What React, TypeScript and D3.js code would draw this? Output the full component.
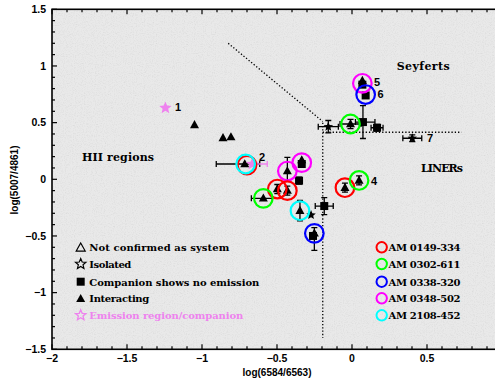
import React from "react";
import * as d3 from "d3";

type P = { x: number; y: number; xlo?: number; xhi?: number; ylo?: number; yhi?: number };

const xTicks = [-2, -1.5, -1, -0.5, 0, 0.5];
const yTicks = [-1.5, -1, -0.5, 0, 0.5, 1, 1.5];

const systemNames = ["AM 0149-334", "AM 0302-611", "AM 0338-320", "AM 0348-502", "AM 2108-452"];
const systemColors = ["#ff0000", "#00ff00", "#0000ff", "#ff00ff", "#00ffff"];

const legendTypes = ["Not confirmed as system", "Isolated", "Companion shows no emission", "Interacting", "Emission region/companion"];

// rings: galaxy system membership
const rings: { x: number; y: number; s: number }[] = [
  { x: -0.70, y: 0.125, s: 0 },
  { x: -0.709, y: 0.135, s: 4 },
  { x: -0.431, y: 0.073, s: 3 },
  { x: -0.335, y: 0.147, s: 3 },
  { x: -0.498, y: -0.086, s: 0 },
  { x: -0.431, y: -0.10, s: 0 },
  { x: -0.591, y: -0.168, s: 1 },
  { x: -0.347, y: -0.277, s: 4 },
  { x: -0.251, y: -0.477, s: 2 },
  { x: -0.047, y: -0.074, s: 0 },
  { x: 0.047, y: -0.01, s: 1 },
  { x: -0.01, y: 0.488, s: 1 },
  { x: 0.069, y: 0.847, s: 3 },
  { x: 0.091, y: 0.748, s: 2 },
];

const interacting: P[] = [
  { x: -1.05, y: 0.48 },
  { x: -0.86, y: 0.365 },
  { x: -0.807, y: 0.373 },
  { x: -0.715, y: 0.135, xlo: 0.19, xhi: 0.1 },
  { x: -0.431, y: 0.073, ylo: 0.09, yhi: 0.12 },
  { x: -0.498, y: -0.086, ylo: 0.04, yhi: 0.04 },
  { x: -0.431, y: -0.10, ylo: 0.04, yhi: 0.04 },
  { x: -0.591, y: -0.168, xlo: 0.08, xhi: 0.06 },
  { x: -0.347, y: -0.277, ylo: 0.09, yhi: 0.09 },
  { x: -0.251, y: -0.477, ylo: 0.15, yhi: 0.05 },
  { x: -0.047, y: -0.074, ylo: 0.04, yhi: 0.04 },
  { x: 0.047, y: -0.01, ylo: 0.04, yhi: 0.04 },
  { x: -0.01, y: 0.488, xlo: 0.07, xhi: 0.07, ylo: 0.04, yhi: 0.04 },
  { x: 0.069, y: 0.87 },
  { x: -0.335, y: 0.17 },
];

const noEmission: P[] = [
  { x: -0.335, y: 0.135 },
  { x: -0.353, y: -0.012, ylo: 0.03, yhi: 0.03 },
  { x: -0.185, y: -0.236, xlo: 0.06, xhi: 0.06, ylo: 0.075, yhi: 0.075 },
  { x: 0.091, y: 0.74 },
  { x: 0.069, y: 0.835 },
  { x: 0.167, y: 0.455, xlo: 0.04, xhi: 0.04, ylo: 0.03, yhi: 0.03 },
  { x: -0.26, y: -0.50 },
  { x: 0.073, y: 0.505, xlo: 0.05, xhi: 0.08, ylo: 0.145, yhi: 0.145 },
];

const isolated: P[] = [
  { x: -0.158, y: 0.464, xlo: 0.067, xhi: 0.067, ylo: 0.055, yhi: 0.055 },
  { x: 0.402, y: 0.362, xlo: 0.063, xhi: 0.063, ylo: 0.03, yhi: 0.03 },
  { x: -0.273, y: -0.315 },
];

const emission: P[] = [
  { x: -1.244, y: 0.63 },
  { x: -0.665, y: 0.135, xhi: 0.1, xlo: 0.0 },
];

const pointLabels = [
  { t: "1", x: -1.16, y: 0.638 },
  { t: "2", x: -0.6, y: 0.196 },
  { t: "4", x: 0.147, y: -0.015 },
  { t: "5", x: 0.167, y: 0.855 },
  { t: "6", x: 0.19, y: 0.755 },
  { t: "7", x: 0.52, y: 0.365 },
];

const diagLine = [[-0.825, 1.2], [-0.195, 0.51]];
const horizLine = [[-0.195, 0.415], [0.73, 0.415]];
const vertLine = [[-0.195, 0.5], [-0.195, -1.4]];

const regionLabels = [
  { t: "Seyferts", x: 0.298, y: 0.965, w: 53 },
  { t: "LINERs", x: 0.46, y: 0.064, w: 42 },
  { t: "HII regions", x: -1.80, y: 0.16, w: 72 },
];

const legendWidths = [140, 42, 170, 60, 154];

const W = 495, H = 383;
const x = d3.scaleLinear().domain([-2, 0.96]).range([52, 496]);
const y = d3.scaleLinear().domain([-1.5, 1.5]).range([349.3, 9.3]);

const fmt = (v: number) => (v < 0 ? "\u2212" + String(-v) : String(v));

function triPath(cx: number, cy: number, s: number) {
  const h = s * 0.9;
  return `M${cx},${cy - h * 0.6}L${cx + s / 2},${cy + h * 0.4}L${cx - s / 2},${cy + h * 0.4}Z`;
}
function starPath(cx: number, cy: number, r: number) {
  const pts: string[] = [];
  for (let i = 0; i < 10; i++) {
    const a = -Math.PI / 2 + (i * Math.PI) / 5;
    const rr = i % 2 === 0 ? r : r * 0.45;
    pts.push(`${cx + rr * Math.cos(a)},${cy + rr * Math.sin(a)}`);
  }
  return "M" + pts.join("L") + "Z";
}

function ErrBars({ p, color }: { p: P; color: string }) {
  const cx = x(p.x), cy = y(p.y);
  const els: React.ReactNode[] = [];
  const cap = 3;
  if (p.xlo !== undefined || p.xhi !== undefined) {
    const x0 = x(p.x - (p.xlo ?? 0)), x1 = x(p.x + (p.xhi ?? 0));
    els.push(<line key="h" x1={x0} x2={x1} y1={cy} y2={cy} stroke={color} strokeWidth={1.3} />);
    if (p.xlo) els.push(<line key="hc0" x1={x0} x2={x0} y1={cy - cap} y2={cy + cap} stroke={color} strokeWidth={1.3} />);
    if (p.xhi) els.push(<line key="hc1" x1={x1} x2={x1} y1={cy - cap} y2={cy + cap} stroke={color} strokeWidth={1.3} />);
  }
  if (p.ylo !== undefined || p.yhi !== undefined) {
    const y0 = y(p.y - (p.ylo ?? 0)), y1 = y(p.y + (p.yhi ?? 0));
    els.push(<line key="v" x1={cx} x2={cx} y1={y0} y2={y1} stroke={color} strokeWidth={1.3} />);
    if (p.ylo) els.push(<line key="vc0" x1={cx - cap} x2={cx + cap} y1={y0} y2={y0} stroke={color} strokeWidth={1.3} />);
    if (p.yhi) els.push(<line key="vc1" x1={cx - cap} x2={cx + cap} y1={y1} y2={y1} stroke={color} strokeWidth={1.3} />);
  }
  return <g>{els}</g>;
}

export default function App() {
  const line = d3.line<number[]>().x((d) => x(d[0])).y((d) => y(d[1]));
  const x0 = x(-2), x1 = x(0.96), yT = y(1.5), yB = y(-1.5);
  const minorX = d3.range(-2, 0.96, 0.1).map((v) => +v.toFixed(2));
  const minorY = d3.range(-1.5, 1.5001, 0.1).map((v) => +v.toFixed(2));
  const tickFont = { fontFamily: "'Liberation Sans', Arial, sans-serif", fontWeight: 700, fontSize: 10.5 } as const;
  const serif = { fontFamily: "'DejaVu Serif', serif", fontWeight: 700, fontSize: 10 } as const;
  const legRowY = [247.3, 264, 281.7, 298.3, 315.3];

  return (
    <svg width={W} height={H} style={{ position: "absolute", left: 0, top: 0, background: "#fff" }}>
      <defs>
        <filter id="noise" x="0" y="0" width="100%" height="100%">
          <feTurbulence type="fractalNoise" baseFrequency="0.9" numOctaves="2" seed="3" result="t" />
          <feColorMatrix type="matrix" values="0 0 0 0 0.55  0 0 0 0 0.55  0 0 0 0 0.55  0.9 0.9 0.9 0 -1.25" />
        </filter>
        <clipPath id="plotclip"><rect x={x0} y={yT} width={x1 - x0} height={yB - yT} /></clipPath>
      </defs>
      <rect x={x0} y={yT} width={x1 - x0} height={yB - yT} fill="#e9e9e9" />
      <rect x={x0} y={yT} width={x1 - x0} height={yB - yT} filter="url(#noise)" opacity={0.45} />

      {/* ticks */}
      <g stroke="#000" strokeWidth={1.2}>
        {minorX.map((v) => {
          const major = xTicks.some((t) => Math.abs(t - v) < 1e-6);
          const L = major ? 5 : 3;
          return (
            <g key={"mx" + v}>
              <line x1={x(v)} x2={x(v)} y1={yB} y2={yB - L} />
              <line x1={x(v)} x2={x(v)} y1={yT} y2={yT + L} />
            </g>
          );
        })}
        {minorY.map((v) => {
          const major = yTicks.some((t) => Math.abs(t - v) < 1e-6);
          const L = major ? 5 : 3;
          return <line key={"my" + v} x1={x0} x2={x0 + L} y1={y(v)} y2={y(v)} />;
        })}
      </g>
      <rect x={x0} y={yT} width={x1 - x0} height={yB - yT} fill="none" stroke="#000" strokeWidth={1.6} />

      {xTicks.map((v) => (
        <text key={"xt" + v} x={x(v)} y={362} textAnchor="middle" {...tickFont}>{fmt(v)}</text>
      ))}
      {yTicks.map((v) => (
        <text key={"yt" + v} x={46} y={y(v) + 3.8} textAnchor="end" {...tickFont}>{fmt(v)}</text>
      ))}
      <text x={277} y={376} textAnchor="middle" {...tickFont} fontSize={10}>log(6584/6563)</text>
      <text transform={`translate(18,180) rotate(-90)`} textAnchor="middle" {...tickFont} fontSize={10}>log(5007/4861)</text>

      <g clipPath="url(#plotclip)">
        {/* dotted dividing lines */}
        {[diagLine, horizLine, vertLine].map((l, i) => (
          <path key={"dl" + i} d={line(l) || ""} fill="none" stroke="#000" strokeWidth={1.3} strokeDasharray="1.3,2" />
        ))}

        {regionLabels.map((r) => (
          <text key={r.t} x={x(r.x)} y={y(r.y)} {...serif} fontSize={11} textLength={r.w} lengthAdjust="spacing">{r.t}</text>
        ))}

        {/* error bars */}
        {[...interacting, ...noEmission, ...isolated].map((p, i) => <ErrBars key={"e" + i} p={p} color="#000" />)}

        {/* markers */}
        {noEmission.map((p, i) => (
          <rect key={"s" + i} x={x(p.x) - 4} y={y(p.y) - 4} width={8} height={8} fill="#000" />
        ))}
        {interacting.map((p, i) => (
          <path key={"t" + i} d={triPath(x(p.x), y(p.y), 9)} fill="#000" />
        ))}
        {isolated.map((p, i) => (
          <path key={"st" + i} d={starPath(x(p.x), y(p.y), 5)} fill="#000" />
        ))}
        {emission.map((p, i) => (
          <g key={"em" + i}>
            <ErrBars p={p} color="#ee82ee" />
            <path d={starPath(x(p.x), y(p.y), 6.5)} fill="#ee82ee" />
          </g>
        ))}

        {rings.map((r, i) => (
          <circle key={"r" + i} cx={x(r.x)} cy={y(r.y)} r={9.3} fill="none" stroke={systemColors[r.s]} strokeWidth={2.2} />
        ))}

        {pointLabels.map((l) => (
          <text key={"pl" + l.t} x={x(l.x)} y={y(l.y) + 4} textAnchor="middle" {...tickFont} fontSize={11}>{l.t}</text>
        ))}

        {/* left legend */}
        {legendTypes.map((t, i) => {
          const cy = legRowY[i];
          const cx = 80.7;
          let sym: React.ReactNode = null;
          if (i === 0) sym = <path d={triPath(cx, cy + 0.5, 9)} fill="none" stroke="#000" strokeWidth={1.2} />;
          if (i === 1) sym = <path d={starPath(cx, cy, 5.5)} fill="none" stroke="#000" strokeWidth={1.2} />;
          if (i === 2) sym = <rect x={cx - 4} y={cy - 4} width={8} height={8} fill="#000" />;
          if (i === 3) sym = <path d={triPath(cx, cy + 0.5, 9)} fill="#000" />;
          if (i === 4) sym = <path d={starPath(cx, cy, 5.5)} fill="none" stroke="#ee82ee" strokeWidth={1.3} />;
          return (
            <g key={"lg" + i}>
              {sym}
              <text x={89.3} y={cy + 3.8} {...serif} fill={i === 4 ? "#ee82ee" : "#000"} textLength={legendWidths[i]} lengthAdjust="spacing">{t}</text>
            </g>
          );
        })}

        {/* right legend */}
        {systemNames.map((n, i) => (
          <g key={"sl" + i}>
            <circle cx={381.7} cy={legRowY[i]} r={5.2} fill="none" stroke={systemColors[i]} strokeWidth={2} />
            <text x={388.5} y={legRowY[i] + 3.8} {...serif} textLength={72} lengthAdjust="spacing">{n}</text>
          </g>
        ))}
      </g>
    </svg>
  );
}
